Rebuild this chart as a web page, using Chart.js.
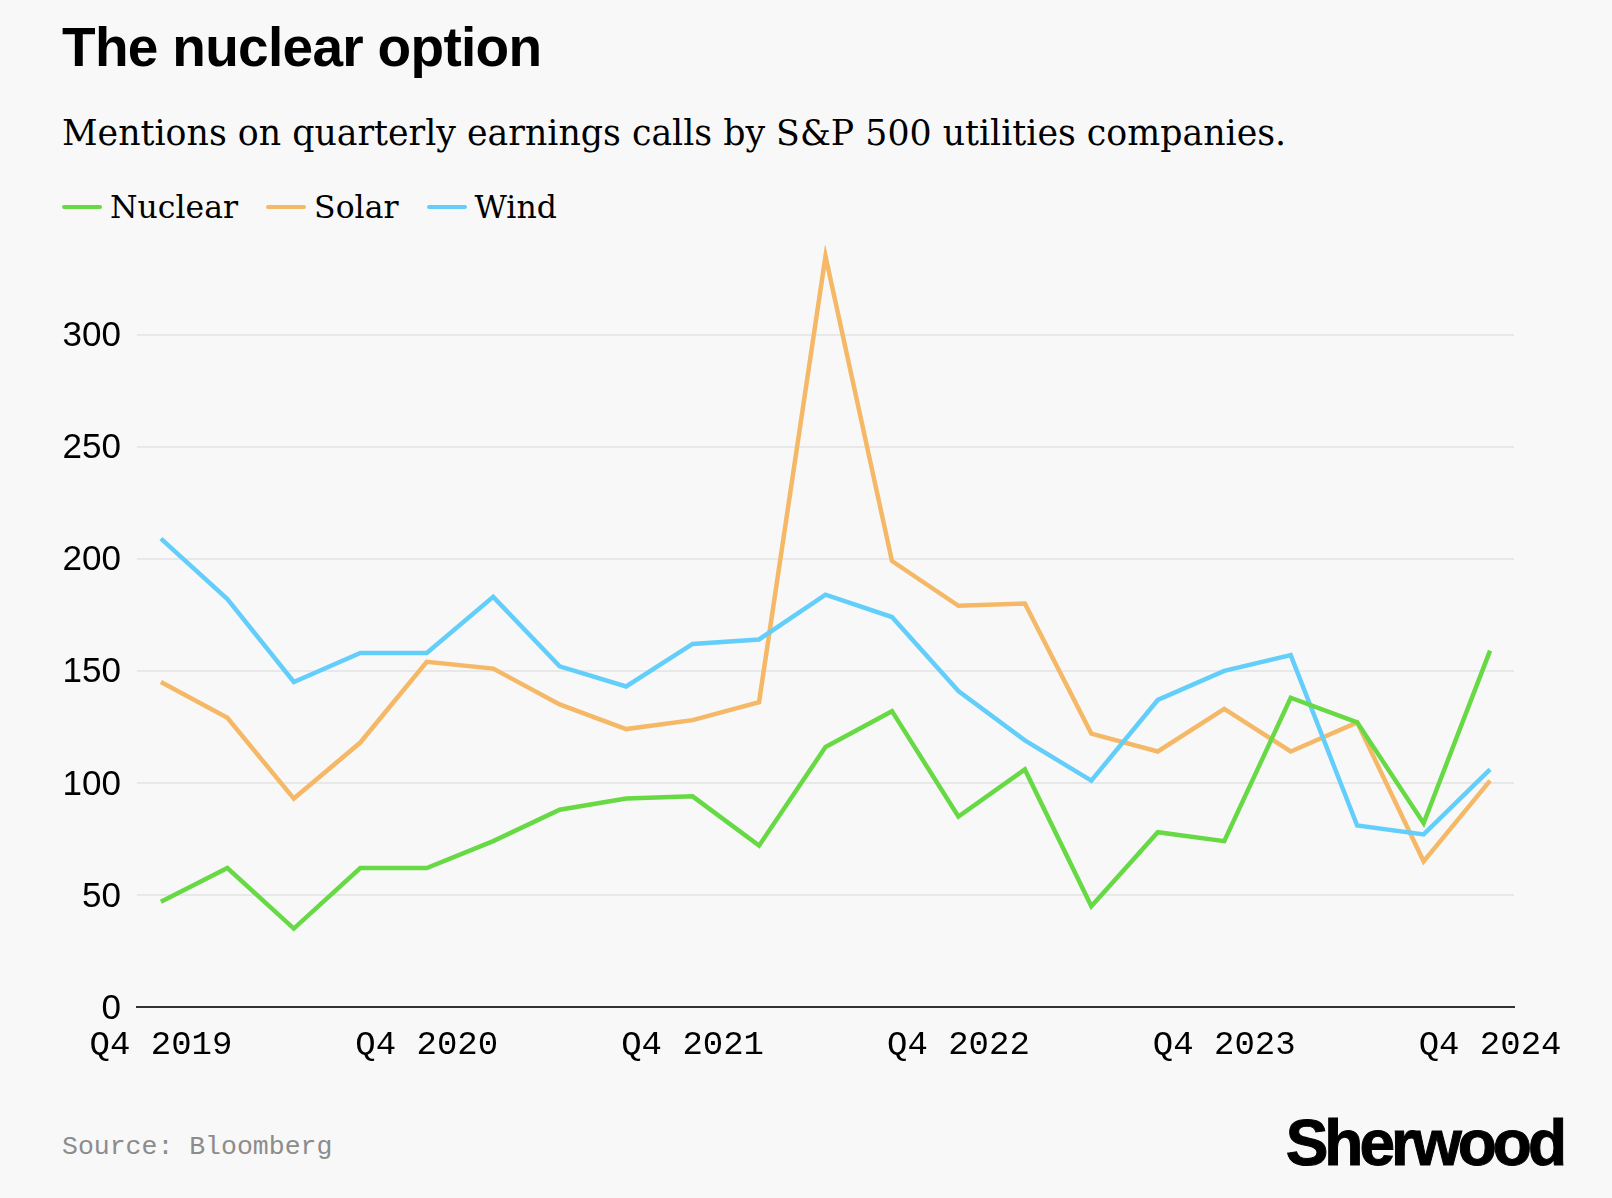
<!DOCTYPE html>
<html lang="en">
<head>
<meta charset="utf-8">
<title>The nuclear option</title>
<script src="https://cdn.jsdelivr.net/npm/chart.js@4.4.1/dist/chart.umd.min.js"></script>
<style>
  html, body {
    margin: 0;
    padding: 0;
    background: #f8f8f8;
  }
  body {
    position: relative;
    width: 1612px;
    height: 1198px;
    overflow: hidden;
  }
  .title {
    position: absolute;
    left: 62px;
    top: 20px;
    font: bold 55px/55px "Liberation Sans", Arial, sans-serif;
    letter-spacing: -0.7px;
    color: #000;
  }
  .subtitle {
    position: absolute;
    left: 62px;
    top: 116px;
    font: 34.75px/35px "DejaVu Serif", serif;
    color: #000;
    white-space: nowrap;
  }
  .chart-legend {
    position: absolute;
    left: 62px;
    top: 191px;
    display: flex;
    align-items: center;
    font: 31.5px/32px "DejaVu Serif", serif;
    color: #000;
  }
  .legend-item {
    display: flex;
    align-items: center;
    margin-right: 28px;
  }
  .legend-color {
    display: inline-block;
    width: 40px;
    height: 4px;
    border-radius: 2px;
    margin-right: 8px;
  }
  #chart-container {
    position: absolute;
    left: 0;
    top: 230px;
    width: 1612px;
    height: 850px;
  }
  .source {
    position: absolute;
    left: 62px;
    top: 1134px;
    font: 26.5px/26.5px "Liberation Mono", monospace;
    color: #8c8c8c;
  }
  .logo {
    position: absolute;
    right: 49px;
    top: 1111px;
    font: bold 64px/64px "Liberation Sans", Arial, sans-serif;
    letter-spacing: -4px;
    -webkit-text-stroke: 1px #000;
    color: #000;
  }
</style>
</head>
<body>
<div class="title">The nuclear option</div>
<div class="subtitle">Mentions on quarterly earnings calls by S&amp;P 500 utilities companies.</div>
<div class="chart-legend" id="legend"></div>
<div id="chart-container"><canvas id="chart"></canvas></div>
<div class="source">Source: Bloomberg</div>
<div class="logo">Sherwood</div>

<script>
// Quarters, Q4 2019 through Q4 2024
const quarters = [
  'Q4 2019', 'Q1 2020', 'Q2 2020', 'Q3 2020',
  'Q4 2020', 'Q1 2021', 'Q2 2021', 'Q3 2021',
  'Q4 2021', 'Q1 2022', 'Q2 2022', 'Q3 2022',
  'Q4 2022', 'Q1 2023', 'Q2 2023', 'Q3 2023',
  'Q4 2023', 'Q1 2024', 'Q2 2024', 'Q3 2024',
  'Q4 2024'
];

// Mentions per quarter
const nuclear = [47, 62, 35, 62, 62, 74, 88, 93, 94, 72, 116, 132, 85, 106, 45, 78, 74, 138, 127, 82, 159];
const solar = [145, 129, 93, 118, 154, 151, 135, 124, 128, 136, 335, 199, 179, 180, 122, 114, 133, 114, 127, 65, 101];
const wind = [209, 182, 145, 158, 158, 183, 152, 143, 162, 164, 184, 174, 141, 119, 101, 137, 150, 157, 81, 77, 106];

const yTicks = [0, 50, 100, 150, 200, 250, 300];
const xTickIndexes = [0, 4, 8, 12, 16, 20];

const series = [
  { label: 'Nuclear', data: nuclear, color: '#66d944', order: 0 },
  { label: 'Solar', data: solar, color: '#f5b866', order: 2 },
  { label: 'Wind', data: wind, color: '#64cefb', order: 1 }
];

// Legend
const legend = document.getElementById('legend');
legend.innerHTML = series.map(s => `
  <span class="legend-item">
    <span class="legend-color" style="background-color: ${s.color};"></span>${s.label}
  </span>`).join('');

Chart.defaults.font.family = '"Liberation Sans", Arial, sans-serif';
Chart.defaults.color = '#000';

const chart = new Chart(document.getElementById('chart'), {
  type: 'line',
  data: {
    datasets: series.map(s => ({
      label: s.label,
      data: s.data.map((v, i) => ({ x: i, y: v })),
      borderColor: s.color,
      backgroundColor: s.color,
      borderWidth: 4.5,
      pointRadius: 0,
      tension: 0,
      fill: false,
      order: s.order
    }))
  },
  options: {
    responsive: true,
    maintainAspectRatio: false,
    animation: false,
    events: [],
    layout: {
      padding: { left: 0, right: 98, top: 15, bottom: 0 }
    },
    plugins: {
      legend: { display: false },
      tooltip: { enabled: false }
    },
    scales: {
      x: {
        type: 'linear',
        min: -0.36,
        max: 20.36,
        afterBuildTicks: scale => {
          scale.ticks = xTickIndexes.map(v => ({ value: v }));
        },
        afterFit: scale => { scale.height = 73; },
        grid: {
          display: false,
          drawTicks: false
        },
        border: {
          display: true,
          color: '#333',
          width: 2
        },
        ticks: {
          padding: 18,
          maxRotation: 0,
          autoSkip: false,
          font: { family: '"Liberation Mono", monospace', size: 34 },
          color: '#000',
          callback: value => quarters[value]
        }
      },
      y: {
        min: 0,
        max: 340,
        afterBuildTicks: scale => {
          scale.ticks = yTicks.map(v => ({ value: v }));
        },
        afterFit: scale => {
          scale.width = 137;
          scale.paddingTop = 0;
          scale.paddingBottom = 0;
        },
        grid: {
          drawTicks: false,
          lineWidth: 2,
          color: ctx => (ctx.tick && ctx.tick.value === 0 ? 'rgba(0,0,0,0)' : '#e8e8e8')
        },
        border: { display: false },
        ticks: {
          padding: 16,
          labelOffset: 2,
          font: { size: 35 },
          color: '#000'
        }
      }
    }
  }
});
</script>
</body>
</html>
